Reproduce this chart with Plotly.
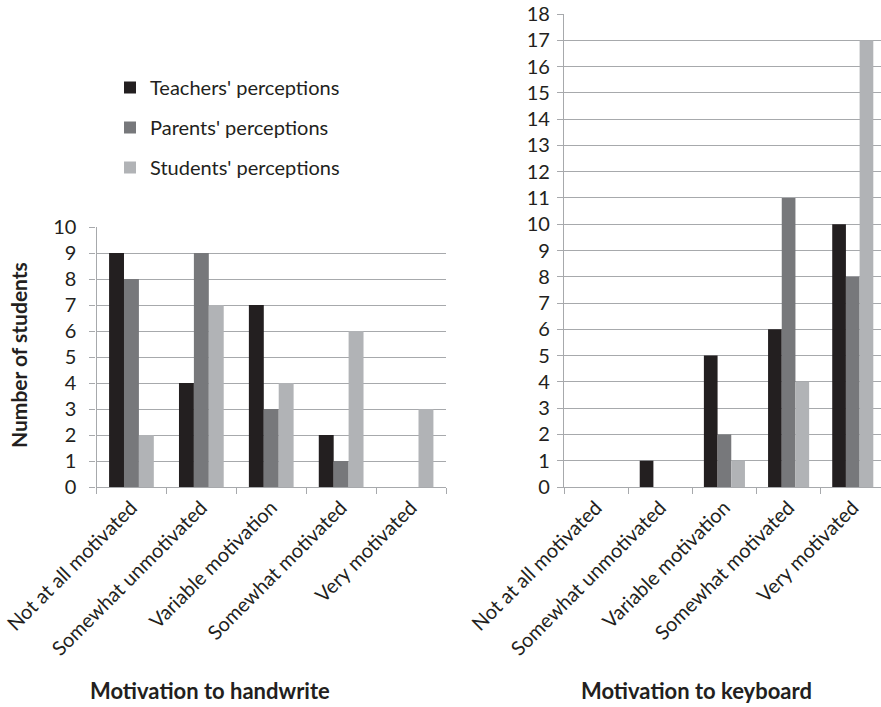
import plotly.graph_objects as go
from plotly.subplots import make_subplots

# Response categories shared by both panels
categories = ["Not at all motivated", "Somewhat unmotivated", "Variable motivation",
              "Somewhat motivated", "Very motivated"]

# Motivation to handwrite (number of students)
hand_teachers = [9, 4, 7, 2, 0]
hand_parents = [8, 9, 3, 1, 0]
hand_students = [2, 7, 4, 6, 3]

# Motivation to keyboard (number of students)
key_teachers = [0, 1, 5, 6, 10]
key_parents = [0, 0, 2, 11, 8]
key_students = [0, 0, 1, 4, 17]

series_names = ["Teachers' perceptions", "Parents' perceptions", "Students' perceptions"]
colors = ["#231f20", "#77787b", "#b1b3b6"]

W, H = 881, 707
FONT = "Lato, 'Open Sans', sans-serif"
TEXT = "#231f20"
GRID = "#a7a9ac"

fig = make_subplots(rows=1, cols=2)

hand = [hand_teachers, hand_parents, hand_students]
key = [key_teachers, key_parents, key_students]
for i, name in enumerate(series_names):
    fig.add_trace(go.Bar(x=categories, y=hand[i], name=name, marker_color=colors[i],
                         marker_line_width=0, legendgroup=name), row=1, col=1)
    fig.add_trace(go.Bar(x=categories, y=key[i], name=name, marker_color=colors[i],
                         marker_line_width=0, legendgroup=name, showlegend=False),
                  row=1, col=2)

def px_x(x):
    return x / W

def px_y(y):
    return (H - y) / H

axis_common = dict(showline=True, linecolor=GRID, linewidth=1.3, mirror=False,
                   tickfont=dict(family=FONT, size=20, color=TEXT), automargin=False)

fig.update_xaxes(**axis_common, ticks="outside", tickson="boundaries", ticklen=6,
                 tickcolor=GRID, tickangle=-45, showgrid=False)
fig.update_yaxes(**axis_common, ticks="outside", ticklen=6, tickcolor=GRID,
                 showgrid=True, gridcolor=GRID, gridwidth=1.3, dtick=1, zeroline=False)

fig.update_layout(
    xaxis=dict(domain=[px_x(96.5), px_x(446)], range=[-0.5, 4.5]),
    yaxis=dict(domain=[px_y(487), px_y(227)], range=[0, 10], ticklabelstandoff=9),
    xaxis2=dict(domain=[px_x(564), 1.0], range=[-0.5, 4.44]),
    yaxis2=dict(domain=[px_y(487), px_y(14)], range=[0, 18], ticklabelstandoff=3),
)

fig.update_layout(
    width=W, height=H,
    margin=dict(l=0, r=0, t=0, b=0),
    paper_bgcolor="white", plot_bgcolor="white",
    barmode="group", bargap=0.36, bargroupgap=0,
    font=dict(family=FONT, size=20, color=TEXT),
    legend=dict(x=px_x(110), y=px_y(68), xanchor="left", yanchor="top",
                font=dict(family=FONT, size=20, color=TEXT),
                traceorder="grouped", tracegroupgap=11, bgcolor="rgba(0,0,0,0)"),
    annotations=[
        dict(text="<b>Number of students</b>", x=px_x(18), y=px_y(355), xref="paper",
             yref="paper", xanchor="center", yanchor="middle", textangle=-90,
             showarrow=False, font=dict(family=FONT, size=21, color=TEXT)),
        dict(text="<b>Motivation to handwrite</b>", x=px_x(210), y=px_y(706), xref="paper",
             yref="paper", xanchor="center", yanchor="bottom", showarrow=False,
             font=dict(family=FONT, size=22, color=TEXT)),
        dict(text="<b>Motivation to keyboard</b>", x=px_x(696), y=px_y(706), xref="paper",
             yref="paper", xanchor="center", yanchor="bottom", showarrow=False,
             font=dict(family=FONT, size=22, color=TEXT)),
    ],
)

fig.write_html("out.html")
